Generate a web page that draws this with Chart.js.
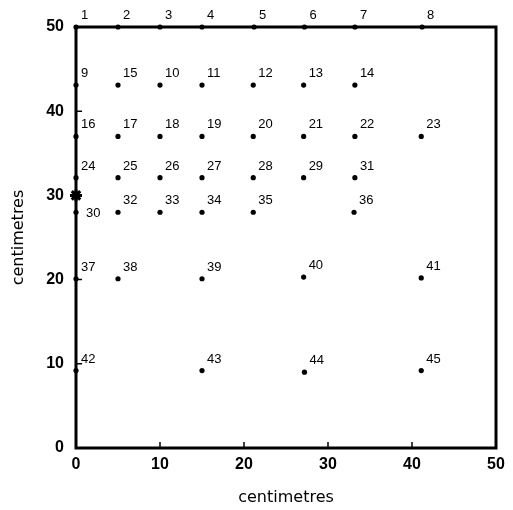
<!DOCTYPE html>
<html>
<head>
<meta charset="utf-8">
<script src="https://cdn.jsdelivr.net/npm/chart.js@4.4.1/dist/chart.umd.min.js"></script>
<style>
html, body { margin: 0; padding: 0; background: #fff; }
#wrap { width: 513px; height: 510px; }
</style>
</head>
<body>
<div id="wrap"><canvas id="chart"></canvas></div>
<script>
// numbered sampling points (cm)
const pointIds = [1, 2, 3, 4, 5, 6, 7, 8,
  9, 15, 10, 11, 12, 13, 14,
  16, 17, 18, 19, 20, 21, 22, 23,
  24, 25, 26, 27, 28, 29, 31,
  30, 32, 33, 34, 35, 36,
  37, 38, 39, 40, 41,
  42, 43, 44, 45];
const xValues = [0, 5, 10, 15, 21.2, 27.2, 33.2, 41.2,
  0, 5, 10, 15, 21.1, 27.1, 33.2,
  0, 5, 10, 15, 21.1, 27.1, 33.2, 41.1,
  0, 5, 10, 15, 21.1, 27.1, 33.2,
  0, 5, 10, 15, 21.1, 33.1,
  0, 5, 15, 27.1, 41.1,
  0, 15, 27.2, 41.1];
const yValues = [50, 50, 50, 50, 50, 50, 50, 50,
  43.1, 43.1, 43.1, 43.1, 43.1, 43.1, 43.1,
  37, 37, 37, 37, 37, 37, 37, 37,
  32.1, 32.1, 32.1, 32.1, 32.1, 32.1, 32.1,
  28, 28, 28, 28, 28, 28,
  20.1, 20.1, 20.1, 20.3, 20.2,
  9.2, 9.2, 9, 9.2];
// the starred point on the left edge
const markerX = [0];
const markerY = [30];
const axisMin = 0;
const axisMax = 50;
const axisStep = 10;
const axisTitle = 'centimetres';

// labels written beside the dot instead of above it
const besideLabels = [30];

const FONT = '"Liberation Sans", Arial, sans-serif';

const framePlugin = {
    id: 'frame',
    beforeDatasetsDraw(chart) {
        const { ctx, chartArea: a, scales: { x, y } } = chart;
        ctx.save();
        ctx.strokeStyle = '#000';
        ctx.lineWidth = 3;
        ctx.strokeRect(a.left, a.top, a.right - a.left, a.bottom - a.top);

        // short inward tick marks
        ctx.lineWidth = 1.5;
        ctx.beginPath();
        x.ticks.forEach(t => {
            if (t.value <= axisMin || t.value >= axisMax) return;
            const px = x.getPixelForValue(t.value);
            ctx.moveTo(px, a.bottom);
            ctx.lineTo(px, a.bottom - 6);
        });
        y.ticks.forEach(t => {
            if (t.value <= axisMin || t.value >= axisMax) return;
            const py = y.getPixelForValue(t.value);
            ctx.moveTo(a.left, py);
            ctx.lineTo(a.left + 6, py);
        });
        ctx.stroke();
        ctx.restore();
    },
    afterDatasetsDraw(chart) {
        const { ctx } = chart;
        const meta = chart.getDatasetMeta(0);
        ctx.save();
        ctx.fillStyle = '#000';
        ctx.font = '13px ' + FONT;
        meta.data.forEach((pt, i) => {
            const id = pointIds[i];
            if (besideLabels.includes(id)) {
                ctx.textBaseline = 'middle';
                ctx.fillText(String(id), pt.x + 10, pt.y + 1);
            } else {
                ctx.textBaseline = 'alphabetic';
                ctx.fillText(String(id), pt.x + 5, pt.y - 8);
            }
        });
        ctx.restore();
    }
};

const tickFont = { family: FONT, size: 16, weight: 'bold' };
const titleFont = { family: '"DejaVu Sans", sans-serif', size: 16 };

new Chart(document.getElementById('chart'), {
    type: 'scatter',
    data: {
        datasets: [{
            data: xValues.map((v, i) => ({ x: v, y: yValues[i] })),
            pointRadius: 2.6,
            pointHoverRadius: 2.6,
            borderWidth: 0,
            backgroundColor: '#000',
            clip: false
        }, {
            data: markerX.map((v, i) => ({ x: v, y: markerY[i] })),
            pointStyle: 'star',
            pointRadius: 6,
            borderWidth: 3,
            borderColor: '#000',
            backgroundColor: '#000',
            clip: false
        }]
    },
    options: {
        responsive: true,
        maintainAspectRatio: false,
        animation: false,
        layout: { padding: { top: 27, right: 17, bottom: 3, left: 0 } },
        plugins: {
            legend: { display: false },
            tooltip: { enabled: false }
        },
        scales: {
            x: {
                type: 'linear',
                min: axisMin,
                max: axisMax,
                grid: { display: false, drawTicks: false },
                border: { display: false },
                ticks: { stepSize: axisStep, color: '#000', font: tickFont, padding: 7, maxRotation: 0 },
                title: { display: true, text: axisTitle, color: '#000', font: titleFont, padding: { top: 0, bottom: 0 } },
                afterFit: s => { s.height = 59; }
            },
            y: {
                type: 'linear',
                min: axisMin,
                max: axisMax,
                grid: { display: false, drawTicks: false },
                border: { display: false },
                ticks: { stepSize: axisStep, color: '#000', font: tickFont, padding: 12 },
                title: { display: true, text: axisTitle, color: '#000', font: titleFont, padding: { top: 9, bottom: 0 } },
                afterFit: s => { s.width = 76; }
            }
        }
    },
    plugins: [framePlugin]
});
</script>
</body>
</html>
